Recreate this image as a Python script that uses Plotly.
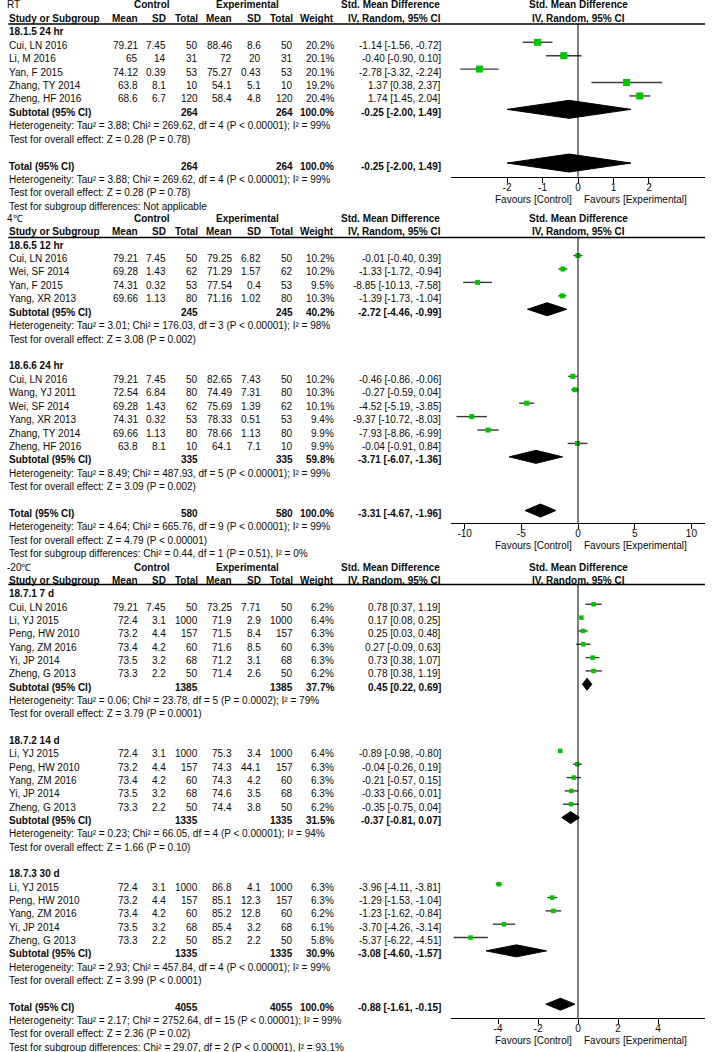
import plotly.graph_objects as go

W, H = 715, 1052

# ================= data: RT =================
rt_title = "RT"
rt24_label = "18.1.5 24 hr"
rt24_study = ["Cui, LN 2016", "Li, M 2016", "Yan, F 2015", "Zhang, TY 2014", "Zheng, HF 2016"]
rt24_c_mean = [79.21, 65, 74.12, 63.8, 68.6]
rt24_c_sd = [7.45, 14, 0.39, 8.1, 6.7]
rt24_c_n = [50, 31, 53, 10, 120]
rt24_e_mean = [88.46, 72, 75.27, 54.1, 58.4]
rt24_e_sd = [8.6, 20, 0.43, 5.1, 4.8]
rt24_e_n = [50, 31, 53, 10, 120]
rt24_weight = [20.2, 20.1, 20.1, 19.2, 20.4]
rt24_smd = [-1.14, -0.40, -2.78, 1.37, 1.74]
rt24_lo = [-1.56, -0.90, -3.32, 0.38, 1.45]
rt24_hi = [-0.72, 0.10, -2.24, 2.37, 2.04]
rt24_subtotal = [264, 264, 100.0, -0.25, -2.00, 1.49]
rt24_het = "Heterogeneity: Tau² = 3.88; Chi² = 269.62, df = 4 (P < 0.00001); I² = 99%"
rt24_z = "Test for overall effect: Z = 0.28 (P = 0.78)"
rt_total = [264, 264, 100.0, -0.25, -2.00, 1.49]
rt_total_het = "Heterogeneity: Tau² = 3.88; Chi² = 269.62, df = 4 (P < 0.00001); I² = 99%"
rt_total_z = "Test for overall effect: Z = 0.28 (P = 0.78)"
rt_subgroup = "Test for subgroup differences: Not applicable"
rt_ticks = [-2, -1, 0, 1, 2]
rt_ticktext = ["-2", "-1", "0", "1", "2"]

# ================= data: 4 C =================
c4_title = "4℃"
c4a_label = "18.6.5 12 hr"
c4a_study = ["Cui, LN 2016", "Wei, SF 2014", "Yan, F 2015", "Yang, XR 2013"]
c4a_c_mean = [79.21, 69.28, 74.31, 69.66]
c4a_c_sd = [7.45, 1.43, 0.32, 1.13]
c4a_c_n = [50, 62, 53, 80]
c4a_e_mean = [79.25, 71.29, 77.54, 71.16]
c4a_e_sd = [6.82, 1.57, 0.4, 1.02]
c4a_e_n = [50, 62, 53, 80]
c4a_weight = [10.2, 10.2, 9.5, 10.3]
c4a_smd = [-0.01, -1.33, -8.85, -1.39]
c4a_lo = [-0.40, -1.72, -10.13, -1.73]
c4a_hi = [0.39, -0.94, -7.58, -1.04]
c4a_subtotal = [245, 245, 40.2, -2.72, -4.46, -0.99]
c4a_het = "Heterogeneity: Tau² = 3.01; Chi² = 176.03, df = 3 (P < 0.00001); I² = 98%"
c4a_z = "Test for overall effect: Z = 3.08 (P = 0.002)"

c4b_label = "18.6.6 24 hr"
c4b_study = ["Cui, LN 2016", "Wang, YJ 2011", "Wei, SF 2014", "Yang, XR 2013", "Zhang, TY 2014", "Zheng, HF 2016"]
c4b_c_mean = [79.21, 72.54, 69.28, 74.31, 69.66, 63.8]
c4b_c_sd = [7.45, 6.84, 1.43, 0.32, 1.13, 8.1]
c4b_c_n = [50, 80, 62, 53, 80, 10]
c4b_e_mean = [82.65, 74.49, 75.69, 78.33, 78.66, 64.1]
c4b_e_sd = [7.43, 7.31, 1.39, 0.51, 1.13, 7.1]
c4b_e_n = [50, 80, 62, 53, 80, 10]
c4b_weight = [10.2, 10.3, 10.1, 9.4, 9.9, 9.9]
c4b_smd = [-0.46, -0.27, -4.52, -9.37, -7.93, -0.04]
c4b_lo = [-0.86, -0.59, -5.19, -10.72, -8.86, -0.91]
c4b_hi = [-0.06, 0.04, -3.85, -8.03, -6.99, 0.84]
c4b_subtotal = [335, 335, 59.8, -3.71, -6.07, -1.36]
c4b_het = "Heterogeneity: Tau² = 8.49; Chi² = 487.93, df = 5 (P < 0.00001); I² = 99%"
c4b_z = "Test for overall effect: Z = 3.09 (P = 0.002)"
c4_total = [580, 580, 100.0, -3.31, -4.67, -1.96]
c4_total_het = "Heterogeneity: Tau² = 4.64; Chi² = 665.76, df = 9 (P < 0.00001); I² = 99%"
c4_total_z = "Test for overall effect: Z = 4.79 (P < 0.00001)"
c4_subgroup = "Test for subgroup differences: Chi² = 0.44, df = 1 (P = 0.51), I² = 0%"
c4_ticks = [-10, -5, 0, 5, 10]
c4_ticktext = ["-10", "-5", "0", "5", "10"]

# ================= data: -20 C =================
m20_title = "-20℃"
m20a_label = "18.7.1 7 d"
m20a_study = ["Cui, LN 2016", "Li, YJ 2015", "Peng, HW 2010", "Yang, ZM 2016", "Yi, JP 2014", "Zheng, G 2013"]
m20a_c_mean = [79.21, 72.4, 73.2, 73.4, 73.5, 73.3]
m20a_c_sd = [7.45, 3.1, 4.4, 4.2, 3.2, 2.2]
m20a_c_n = [50, 1000, 157, 60, 68, 50]
m20a_e_mean = [73.25, 71.9, 71.5, 71.6, 71.2, 71.4]
m20a_e_sd = [7.71, 2.9, 8.4, 8.5, 3.1, 2.6]
m20a_e_n = [50, 1000, 157, 60, 68, 50]
m20a_weight = [6.2, 6.4, 6.3, 6.3, 6.3, 6.2]
m20a_smd = [0.78, 0.17, 0.25, 0.27, 0.73, 0.78]
m20a_lo = [0.37, 0.08, 0.03, -0.09, 0.38, 0.38]
m20a_hi = [1.19, 0.25, 0.48, 0.63, 1.07, 1.19]
m20a_subtotal = [1385, 1385, 37.7, 0.45, 0.22, 0.69]
m20a_het = "Heterogeneity: Tau² = 0.06; Chi² = 23.78, df = 5 (P = 0.0002); I² = 79%"
m20a_z = "Test for overall effect: Z = 3.79 (P = 0.0001)"

m20b_label = "18.7.2 14 d"
m20b_study = ["Li, YJ 2015", "Peng, HW 2010", "Yang, ZM 2016", "Yi, JP 2014", "Zheng, G 2013"]
m20b_c_mean = [72.4, 73.2, 73.4, 73.5, 73.3]
m20b_c_sd = [3.1, 4.4, 4.2, 3.2, 2.2]
m20b_c_n = [1000, 157, 60, 68, 50]
m20b_e_mean = [75.3, 74.3, 74.3, 74.6, 74.4]
m20b_e_sd = [3.4, 44.1, 4.2, 3.5, 3.8]
m20b_e_n = [1000, 157, 60, 68, 50]
m20b_weight = [6.4, 6.3, 6.3, 6.3, 6.2]
m20b_smd = [-0.89, -0.04, -0.21, -0.33, -0.35]
m20b_lo = [-0.98, -0.26, -0.57, -0.66, -0.75]
m20b_hi = [-0.80, 0.19, 0.15, 0.01, 0.04]
m20b_subtotal = [1335, 1335, 31.5, -0.37, -0.81, 0.07]
m20b_het = "Heterogeneity: Tau² = 0.23; Chi² = 66.05, df = 4 (P < 0.00001); I² = 94%"
m20b_z = "Test for overall effect: Z = 1.66 (P = 0.10)"

m20c_label = "18.7.3 30 d"
m20c_study = ["Li, YJ 2015", "Peng, HW 2010", "Yang, ZM 2016", "Yi, JP 2014", "Zheng, G 2013"]
m20c_c_mean = [72.4, 73.2, 73.4, 73.5, 73.3]
m20c_c_sd = [3.1, 4.4, 4.2, 3.2, 2.2]
m20c_c_n = [1000, 157, 60, 68, 50]
m20c_e_mean = [86.8, 85.1, 85.2, 85.4, 85.2]
m20c_e_sd = [4.1, 12.3, 12.8, 3.2, 2.2]
m20c_e_n = [1000, 157, 60, 68, 50]
m20c_weight = [6.3, 6.3, 6.2, 6.1, 5.8]
m20c_smd = [-3.96, -1.29, -1.23, -3.70, -5.37]
m20c_lo = [-4.11, -1.53, -1.62, -4.26, -6.22]
m20c_hi = [-3.81, -1.04, -0.84, -3.14, -4.51]
m20c_subtotal = [1335, 1335, 30.9, -3.08, -4.60, -1.57]
m20c_het = "Heterogeneity: Tau² = 2.93; Chi² = 457.84, df = 4 (P < 0.00001); I² = 99%"
m20c_z = "Test for overall effect: Z = 3.99 (P < 0.0001)"
m20_total = [4055, 4055, 100.0, -0.88, -1.61, -0.15]
m20_total_het = "Heterogeneity: Tau² = 2.17; Chi² = 2752.64, df = 15 (P < 0.00001); I² = 99%"
m20_total_z = "Test for overall effect: Z = 2.36 (P = 0.02)"
m20_subgroup = "Test for subgroup differences: Chi² = 29.07, df = 2 (P < 0.00001), I² = 93.1%"
m20_ticks = [-4, -2, 0, 2, 4]
m20_ticktext = ["-4", "-2", "0", "2", "4"]

# ================= styling / layout =================
FONT = "Liberation Sans, Arial, sans-serif"
FS = 10
TXT = "#0a0a0a"
GREEN = "#00c400"
CI_COL = "#3a3a3a"

X_NAME, X_TITLE = 8.3, 6
X_CM, X_CSD, X_CN = 138.5, 166.5, 199
X_EM, X_ESD, X_EN = 232.5, 261.5, 293.5
X_W, X_EFF = 334.5, 442
X_CTRL_HDR, X_EXP_HDR, X_SMD_HDR = 152, 247.5, 390.5
PLOT_L, PLOT_R = 451, 705
X_PLOT_C = 578
X_FAV_L, X_FAV_R = 573, 583


def grp(label, study, cm, csd, cn, em, esd, en, w, smd, lo, hi, sub, het, z):
    return dict(label=label, study=study, cm=cm, csd=csd, cn=cn, em=em, esd=esd, en=en,
                w=w, smd=smd, lo=lo, hi=hi, sub=sub, het=het, z=z)


sections = [
    dict(title=rt_title, start=5.0, pitch=13.42, rule_y=24.0, axis_y=176.7, fav_y=199.3,
         xaxis="x", rng=[-3.58, 3.58], tv=rt_ticks, tt=rt_ticktext, sq=7, dh=9.0,
         groups=[grp(rt24_label, rt24_study, rt24_c_mean, rt24_c_sd, rt24_c_n, rt24_e_mean, rt24_e_sd,
                     rt24_e_n, rt24_weight, rt24_smd, rt24_lo, rt24_hi, rt24_subtotal, rt24_het, rt24_z)],
         total=rt_total, total_het=rt_total_het, total_z=rt_total_z, subgroup=rt_subgroup),
    dict(title=c4_title, start=218.3, pitch=13.42, rule_y=237.5, axis_y=523.3, fav_y=545.0,
         xaxis="x2", rng=[-11.2, 11.2], tv=c4_ticks, tt=c4_ticktext, sq=5, dh=6.5,
         groups=[grp(c4a_label, c4a_study, c4a_c_mean, c4a_c_sd, c4a_c_n, c4a_e_mean, c4a_e_sd,
                     c4a_e_n, c4a_weight, c4a_smd, c4a_lo, c4a_hi, c4a_subtotal, c4a_het, c4a_z),
                 grp(c4b_label, c4b_study, c4b_c_mean, c4b_c_sd, c4b_c_n, c4b_e_mean, c4b_e_sd,
                     c4b_e_n, c4b_weight, c4b_smd, c4b_lo, c4b_hi, c4b_subtotal, c4b_het, c4b_z)],
         total=c4_total, total_het=c4_total_het, total_z=c4_total_z, subgroup=c4_subgroup),
    dict(title=m20_title, start=567.3, pitch=13.33, rule_y=584.5, axis_y=1018.3, fav_y=1040.0,
         xaxis="x3", rng=[-6.35, 6.35], tv=m20_ticks, tt=m20_ticktext, sq=4.5, dh=6.0,
         groups=[grp(m20a_label, m20a_study, m20a_c_mean, m20a_c_sd, m20a_c_n, m20a_e_mean, m20a_e_sd,
                     m20a_e_n, m20a_weight, m20a_smd, m20a_lo, m20a_hi, m20a_subtotal, m20a_het, m20a_z),
                 grp(m20b_label, m20b_study, m20b_c_mean, m20b_c_sd, m20b_c_n, m20b_e_mean, m20b_e_sd,
                     m20b_e_n, m20b_weight, m20b_smd, m20b_lo, m20b_hi, m20b_subtotal, m20b_het, m20b_z),
                 grp(m20c_label, m20c_study, m20c_c_mean, m20c_c_sd, m20c_c_n, m20c_e_mean, m20c_e_sd,
                     m20c_e_n, m20c_weight, m20c_smd, m20c_lo, m20c_hi, m20c_subtotal, m20c_het, m20c_z)],
         total=m20_total, total_het=m20_total_het, total_z=m20_total_z, subgroup=m20_subgroup),
]

annotations = []
shapes = []
fig = go.Figure()


def txt(x, y, s, anchor="left", bold=False):
    if bold:
        s = "<b>" + s + "</b>"
    annotations.append(dict(x=x / W, y=1 - y / H, xref="paper", yref="paper", text=s,
                            showarrow=False, xanchor=anchor, yanchor="middle", borderpad=0,
                            font=dict(family=FONT, size=FS, color=TXT)))


def g(v):
    return f"{v:g}"


def eff(s, lo, hi):
    return f"{s:.2f} [{lo:.2f}, {hi:.2f}]"


def summary_row(y, label, vals, xa, dh):
    cn, en, w, s, lo, hi = vals
    txt(X_NAME, y, label, bold=True)
    txt(X_CN, y, g(cn), "right", True)
    txt(X_EN, y, g(en), "right", True)
    txt(X_W, y, f"{w:.1f}%", "right", True)
    txt(X_EFF, y, eff(s, lo, hi), "right", True)
    yc = y - 3
    fig.add_trace(go.Scatter(x=[lo, s, hi, s, lo], y=[yc, yc - dh, yc, yc + dh, yc],
                             mode="lines", fill="toself", fillcolor="black",
                             line=dict(color="black", width=1), xaxis=xa, yaxis="y",
                             hoverinfo="skip"))


xaxes = {}
for sec in sections:
    row = lambda i: sec["start"] + i * sec["pitch"]
    xa = sec["xaxis"]
    # header rows
    y0, y1 = row(0), row(1)
    txt(X_TITLE, y0, sec["title"])
    txt(X_CTRL_HDR, y0, "Control", "center", True)
    txt(X_EXP_HDR, y0, "Experimental", "center", True)
    txt(X_SMD_HDR, y0, "Std. Mean Difference", "center", True)
    txt(X_PLOT_C, y0, "Std. Mean Difference", "center", True)
    txt(X_NAME, y1, "Study or Subgroup", bold=True)
    for xx, lab in [(X_CM, "Mean"), (X_CSD, "SD"), (X_CN, "Total"), (X_EM, "Mean"),
                    (X_ESD, "SD"), (X_EN, "Total"), (X_W, "Weight"), (X_EFF, "IV, Random, 95% CI")]:
        txt(xx, y1, lab, "right", True)
    txt(X_PLOT_C, y1, "IV, Random, 95% CI", "center", True)
    shapes.append(dict(type="line", xref="paper", yref="paper", x0=X_NAME / W, x1=PLOT_R / W,
                       y0=1 - sec["rule_y"] / H, y1=1 - sec["rule_y"] / H,
                       line=dict(color="black", width=1.5)))
    i = 2
    ci_x, ci_y, sq_x, sq_y = [], [], [], []
    for gp in sec["groups"]:
        txt(X_NAME, row(i), gp["label"], bold=True)
        i += 1
        for k in range(len(gp["study"])):
            y = row(i)
            txt(X_NAME, y, gp["study"][k])
            txt(X_CM, y, g(gp["cm"][k]), "right")
            txt(X_CSD, y, g(gp["csd"][k]), "right")
            txt(X_CN, y, g(gp["cn"][k]), "right")
            txt(X_EM, y, g(gp["em"][k]), "right")
            txt(X_ESD, y, g(gp["esd"][k]), "right")
            txt(X_EN, y, g(gp["en"][k]), "right")
            txt(X_W, y, f"{gp['w'][k]:.1f}%", "right")
            txt(X_EFF, y, eff(gp["smd"][k], gp["lo"][k], gp["hi"][k]), "right")
            ci_x += [gp["lo"][k], gp["hi"][k], None]
            ci_y += [y - 3, y - 3, None]
            sq_x.append(gp["smd"][k])
            sq_y.append(y - 3)
            i += 1
        summary_row(row(i), "Subtotal (95% CI)", gp["sub"], xa, sec["dh"])
        i += 1
        txt(X_NAME, row(i), gp["het"])
        i += 1
        txt(X_NAME, row(i), gp["z"])
        i += 2
    summary_row(row(i), "Total (95% CI)", sec["total"], xa, sec["dh"])
    i += 1
    txt(X_NAME, row(i), sec["total_het"])
    i += 1
    txt(X_NAME, row(i), sec["total_z"])
    i += 1
    txt(X_NAME, row(i), sec["subgroup"])

    fig.add_trace(go.Scatter(x=ci_x, y=ci_y, mode="lines", line=dict(color=CI_COL, width=1.4),
                             xaxis=xa, yaxis="y", hoverinfo="skip"))
    fig.add_trace(go.Scatter(x=sq_x, y=sq_y, mode="markers",
                             marker=dict(symbol="square", size=sec["sq"], color=GREEN, line=dict(width=0)),
                             xaxis=xa, yaxis="y", hoverinfo="skip"))
    # vertical line of no effect
    fig.add_trace(go.Scatter(x=[0, 0], y=[sec["rule_y"], sec["axis_y"]], mode="lines",
                             line=dict(color="black", width=1), xaxis=xa, yaxis="y", hoverinfo="skip"))
    txt(X_FAV_L, sec["fav_y"], "Favours [Control]", "right")
    txt(X_FAV_R, sec["fav_y"], "Favours [Experimental]", "left")

    key = "xaxis" if xa == "x" else "xaxis" + xa[1:]
    xaxes[key] = dict(domain=[PLOT_L / W, PLOT_R / W], range=sec["rng"], anchor="free",
                      position=1 - sec["axis_y"] / H, showline=True, linecolor="black", linewidth=1,
                      ticks="outside", ticklen=5, tickwidth=1, tickcolor="black",
                      tickmode="array", tickvals=sec["tv"], ticktext=sec["tt"],
                      ticklabelstandoff=-4,
                      showgrid=False, zeroline=False, fixedrange=True,
                      tickfont=dict(family=FONT, size=FS, color=TXT))

fig.update_layout(
    width=W, height=H, margin=dict(l=0, r=0, t=0, b=0),
    paper_bgcolor="white", plot_bgcolor="rgba(0,0,0,0)", showlegend=False,
    yaxis=dict(range=[H, 0], domain=[0, 1], visible=False, anchor="x", fixedrange=True),
    annotations=annotations, shapes=shapes,
    **xaxes,
)

fig.write_html("out.html", config={"displayModeBar": False},
               post_script="document.body.style.margin='0px';")
